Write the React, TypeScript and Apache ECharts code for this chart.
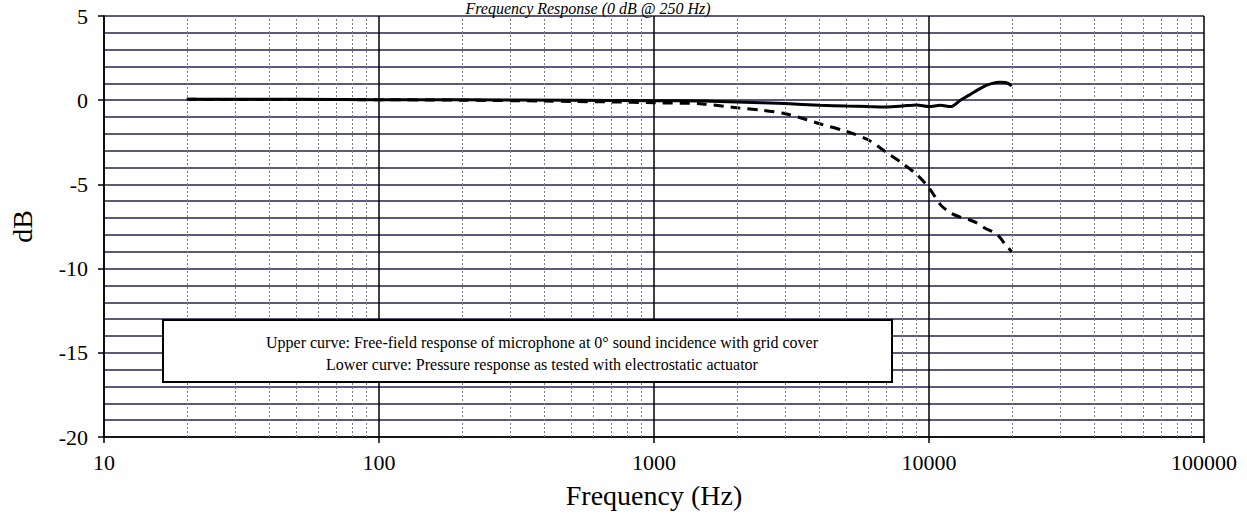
import React, { useEffect, useRef } from "react";
import * as echarts from "echarts";

const FREQ_UPPER = [20, 50, 100, 200, 500, 1000, 1500, 2000, 3000, 4000, 5000, 6000, 7000, 8000, 9000, 10000, 11000, 12000, 13000, 14000, 15000, 16000, 17000, 18000, 19000, 20000];
const DB_UPPER = [0.05, 0.05, 0.03, 0.02, 0.0, -0.03, -0.05, -0.1, -0.2, -0.3, -0.35, -0.38, -0.4, -0.35, -0.28, -0.38, -0.3, -0.38, 0.0, 0.3, 0.6, 0.85, 1.0, 1.07, 1.05, 0.85];

const FREQ_LOWER = [20, 100, 200, 400, 500, 700, 1000, 1500, 2000, 2500, 3000, 3500, 4000, 5000, 6000, 7000, 8000, 9000, 10000, 11000, 12000, 13000, 14000, 15000, 16000, 17000, 18000, 19000, 20000];
const DB_LOWER = [0.05, 0.03, 0.0, -0.05, -0.08, -0.1, -0.15, -0.22, -0.45, -0.6, -0.8, -1.1, -1.4, -1.85, -2.35, -3.1, -3.75, -4.4, -5.2, -6.2, -6.7, -6.95, -7.1, -7.3, -7.6, -7.8, -8.1, -8.6, -9.0];

const MINOR_FREQS = [20, 30, 40, 50, 60, 70, 80, 90, 200, 300, 400, 500, 600, 700, 800, 900, 2000, 3000, 4000, 5000, 6000, 7000, 8000, 9000, 20000, 30000, 40000, 50000, 60000, 70000, 80000, 90000];

const TITLE = "Frequency Response (0 dB @ 250 Hz)";
const NOTE_UPPER = "Upper curve: Free-field response of microphone at 0\u00b0 sound incidence with grid cover";
const NOTE_LOWER = "Lower curve: Pressure response as tested with electrostatic actuator";
const X_NAME = "Frequency (Hz)";
const Y_NAME = "dB";

const SERIF = '"Liberation Serif", "Times New Roman", serif';

export default function App() {
  const ref = useRef<HTMLDivElement>(null);
  useEffect(() => {
    document.body.style.margin = "0";
    const chart = echarts.init(ref.current!, null, { renderer: "svg" });
    const gridColor = "#23254f";
    chart.setOption({
      animation: false,
      backgroundColor: "#ffffff",
      textStyle: { fontFamily: SERIF, color: "#000" },
      grid: { left: 103, right: 43, top: 16, height: 421 },
      xAxis: {
        type: "log",
        logBase: 10,
        min: 10,
        max: 100000,
        name: X_NAME,
        nameLocation: "middle",
        nameGap: 44,
        nameTextStyle: { fontSize: 28, fontFamily: SERIF, color: "#000", verticalAlign: "top" },
        axisLine: { show: true, onZero: false, lineStyle: { color: "#000", width: 1.5 } },
        axisTick: { show: true, length: 6, lineStyle: { color: "#000", width: 1.5 } },
        axisLabel: {
          fontSize: 22,
          fontFamily: SERIF,
          color: "#000",
          margin: 14,
          formatter: (v: number) => String(Math.round(v)),
        },
        splitLine: { show: true, lineStyle: { color: "#000", width: 1.5 } },
      },
      yAxis: {
        type: "value",
        min: -20,
        max: 5,
        interval: 5,
        name: Y_NAME,
        nameLocation: "middle",
        nameGap: 68,
        nameTextStyle: { fontSize: 28, fontFamily: SERIF, color: "#000" },
        axisLine: { show: true, onZero: false, lineStyle: { color: "#000", width: 1.5 } },
        axisTick: { show: true, length: 6, lineStyle: { color: "#000", width: 1.5 } },
        axisLabel: { fontSize: 22, fontFamily: SERIF, color: "#000", margin: 16 },
        splitLine: { show: true, lineStyle: { color: gridColor, width: 1.5 } },
        minorTick: { show: false, splitNumber: 5 },
        minorSplitLine: { show: true, lineStyle: { color: gridColor, width: 1.5 } },
      },
      series: [
        {
          type: "line",
          name: "minor",
          data: [],
          silent: true,
          markLine: {
            silent: true,
            symbol: "none",
            label: { show: false },
            lineStyle: { color: "#7a7a7a", width: 1, type: [2, 2] },
            data: MINOR_FREQS.map((f) => ({ xAxis: f })),
          },
        },
        {
          type: "line",
          name: "Upper",
          data: FREQ_UPPER.map((f, i) => [f, DB_UPPER[i]]),
          showSymbol: false,
          smooth: 0.3,
          lineStyle: { color: "#000", width: 3 },
          z: 5,
        },
        {
          type: "line",
          name: "Lower",
          data: FREQ_LOWER.map((f, i) => [f, DB_LOWER[i]]),
          showSymbol: false,
          smooth: 0.3,
          lineStyle: { color: "#000", width: 3, type: [10, 7] },
          z: 4,
        },
      ],
      graphic: [
        {
          type: "text",
          x: 588,
          y: 8,
          z: 100,
          style: {
            text: TITLE,
            fontSize: 16,
            fontStyle: "italic",
            fontFamily: SERIF,
            fill: "#000",
            textAlign: "center",
            textVerticalAlign: "middle",
          },
        },
        {
          type: "rect",
          z: 100,
          shape: { x: 163, y: 320, width: 729, height: 62 },
          style: { fill: "#fff", stroke: "#000", lineWidth: 2 },
        },
        {
          type: "text",
          z: 101,
          x: 542,
          y: 342,
          style: {
            text: NOTE_UPPER,
            fontSize: 16,
            fontFamily: SERIF,
            fill: "#000",
            textAlign: "center",
            textVerticalAlign: "middle",
          },
        },
        {
          type: "text",
          z: 101,
          x: 542,
          y: 364,
          style: {
            text: NOTE_LOWER,
            fontSize: 16,
            fontFamily: SERIF,
            fill: "#000",
            textAlign: "center",
            textVerticalAlign: "middle",
          },
        },
      ],
    });
    return () => chart.dispose();
  }, []);
  return <div ref={ref} style={{ width: 1247, height: 515 }} />;
}
